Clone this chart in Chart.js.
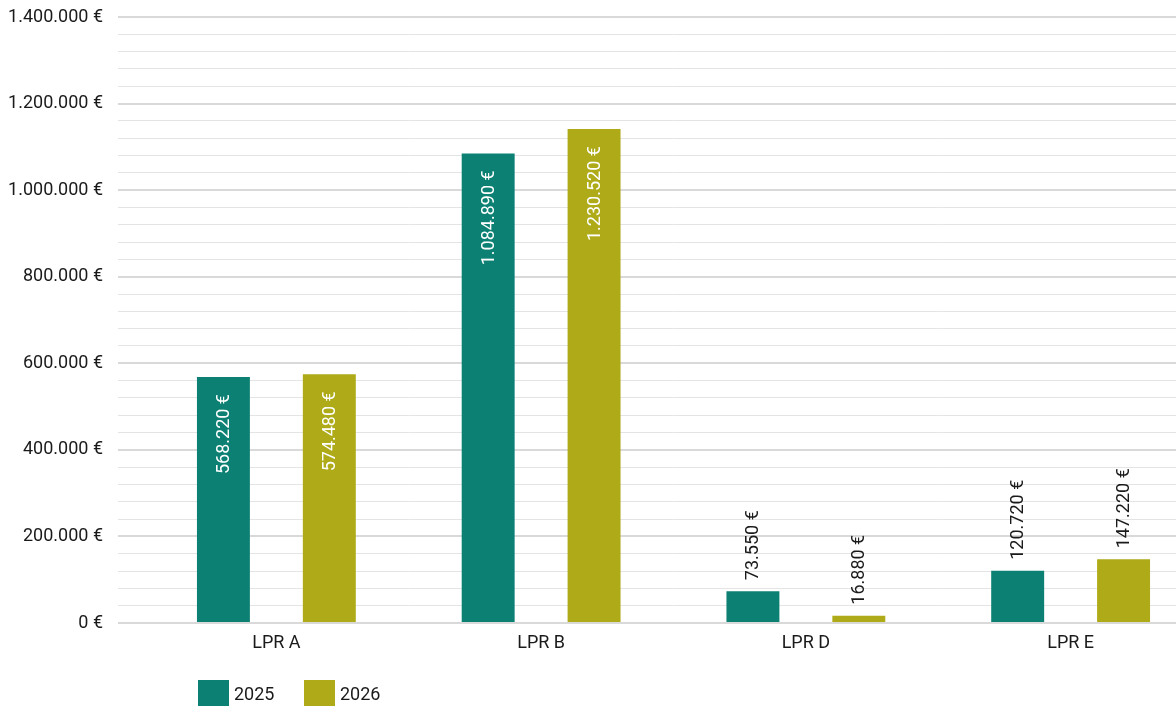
<!DOCTYPE html>
<html>
<head>
<meta charset="utf-8">
<script src="https://cdn.jsdelivr.net/npm/chart.js@4/dist/chart.umd.min.js"></script>
<style>
  html, body { margin: 0; padding: 0; background: #fff; }
  #wrap { position: relative; width: 1176px; height: 706px; overflow: hidden; }
  #c { position: absolute; left: 0; top: 0; }
  .leg { position: absolute; top: 680px; height: 26px; font: 18px Roboto, sans-serif; color: #1a1a1a; display: flex; align-items: center; }
  .leg span.box { display: inline-block; width: 31px; height: 26px; margin-right: 5px; }
</style>
</head>
<body>
<div id="wrap">
  <canvas id="c" width="1203" height="706"></canvas>
  <div class="leg" style="left:198px"><span class="box" style="background:#0d8074"></span>2025</div>
  <div class="leg" style="left:304px"><span class="box" style="background:#aeaa18"></span>2026</div>
</div>
<script>
const categories = ['LPR A', 'LPR B', 'LPR D', 'LPR E'];
const seriesNames = ['2025', '2026'];
const values2025 = [568220, 1084890, 73550, 120720];
const values2026 = [574480, 1141000, 16880, 147220];
const labels2025 = ['568.220 €', '1.084.890 €', '73.550 €', '120.720 €'];
const labels2026 = ['574.480 €', '1.230.520 €', '16.880 €', '147.220 €'];
const yMax = 1400000;
const yStep = 40000;
const yLabelStep = 200000;

const colors = ['#0d8074', '#aeaa18'];
const valueLabels = [labels2025, labels2026];

const fmt = v => String(v).replace(/\B(?=(\d{3})+(?!\d))/g, '.') + ' €';

const labelPlugin = {
  id: 'barLabels',
  afterDatasetsDraw(chart) {
    const ctx = chart.ctx;
    ctx.save();
    ctx.font = '18px Roboto, sans-serif';
    ctx.textBaseline = 'middle';
    chart.data.datasets.forEach((ds, di) => {
      const meta = chart.getDatasetMeta(di);
      meta.data.forEach((bar, i) => {
        const txt = valueLabels[di][i];
        const h = bar.base - bar.y;
        ctx.save();
        if (h > 150) {
          ctx.translate(bar.x, bar.y + 17);
          ctx.rotate(-Math.PI / 2);
          ctx.textAlign = 'right';
          ctx.fillStyle = '#ffffff';
        } else {
          ctx.translate(bar.x, bar.y - 11);
          ctx.rotate(-Math.PI / 2);
          ctx.textAlign = 'left';
          ctx.fillStyle = '#1a1a1a';
        }
        ctx.fillText(txt, 0, 1);
        ctx.restore();
      });
    });
    ctx.restore();
  }
};

new Chart(document.getElementById('c'), {
  type: 'bar',
  data: {
    labels: categories,
    datasets: [
      { label: seriesNames[0], data: values2025, backgroundColor: colors[0] },
      { label: seriesNames[1], data: values2026, backgroundColor: colors[1] }
    ]
  },
  options: {
    responsive: false,
    animation: false,
    devicePixelRatio: 1,
    categoryPercentage: 0.8,
    barPercentage: 0.5,
    layout: { padding: { top: 17, right: 0, left: 0, bottom: 0 } },
    plugins: { legend: { display: false }, tooltip: { enabled: false } },
    scales: {
      x: {
        grid: { display: false, drawTicks: false },
        border: { display: false },
        ticks: { color: '#1a1a1a', font: { family: 'Roboto', size: 18 }, padding: 10 },
        afterFit(s) { s.height = 83; s.paddingLeft = 0; s.paddingRight = 0; }
      },
      y: {
        min: 0, max: yMax,
        grid: {
          drawTicks: true,
          tickLength: 26,
          color: c => (c.tick && c.tick.value % yLabelStep === 0) ? '#d9d9d9' : '#e4e4e4',
          lineWidth: c => (c.tick && c.tick.value % yLabelStep === 0) ? 2 : 1
        },
        border: { display: false },
        ticks: {
          stepSize: yStep,
          autoSkip: false,
          color: '#1a1a1a',
          font: { family: 'Roboto', size: 18 },
          padding: 15,
          callback: v => (v % yLabelStep === 0) ? fmt(v) : ''
        },
        afterFit(s) { s.width = 144; s.paddingTop = 0; s.paddingBottom = 0; }
      }
    }
  },
  plugins: [labelPlugin]
});
</script>
</body>
</html>
